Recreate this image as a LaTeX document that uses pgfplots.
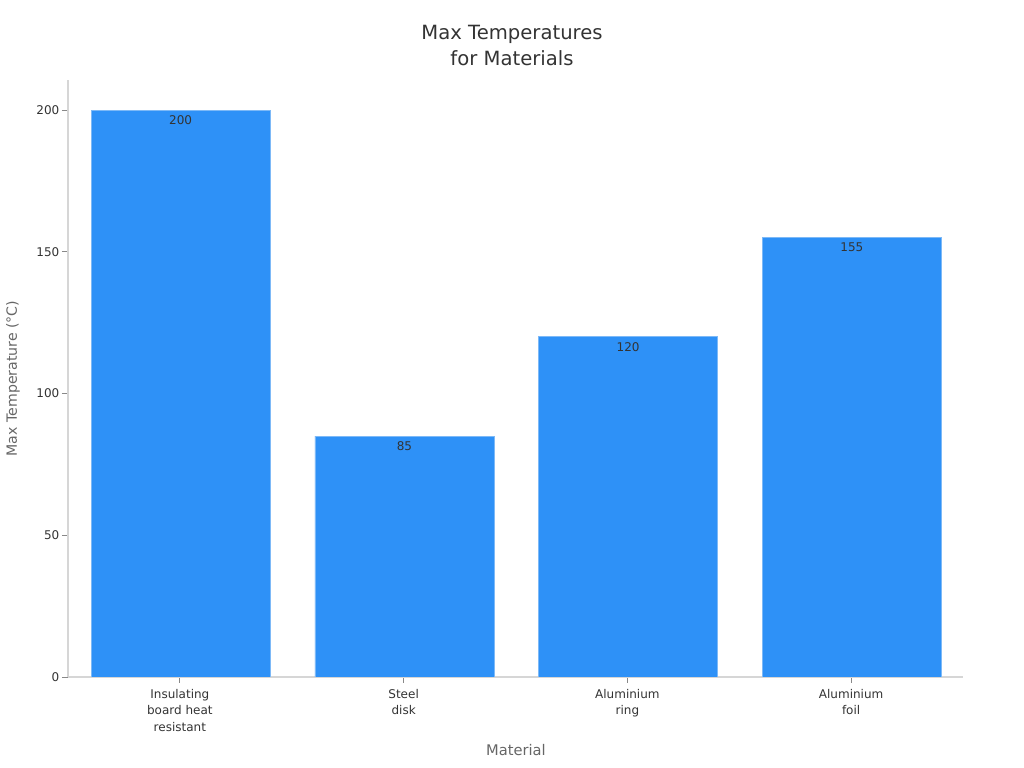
\documentclass[border=0pt]{standalone}
\usepackage{fontspec}
\setmainfont{DejaVu Sans}
\usepackage{pgfplots}
\pgfplotsset{compat=1.18}
\usetikzlibrary{calc}
\definecolor{barblue}{HTML}{2E91F7}
\definecolor{baredge}{HTML}{7DB9F7}
\definecolor{axgray}{HTML}{D6D6D6}
\definecolor{tickgray}{HTML}{888888}
\definecolor{txtdark}{HTML}{333333}
\definecolor{lblgray}{HTML}{666666}
\begin{document}
\begin{tikzpicture}
\begin{axis}[
  scale only axis,
  width=671.25pt, height=447.75pt,
  xmin=-0.5, xmax=3.5, ymin=0, ymax=210.6,
  ybar, bar width=0.8,
  axis lines*=left,
  axis line style={axgray, line width=0.8pt},
  tick align=outside,
  major tick length=4.5pt,
  tick style={tickgray, line width=0.6pt},
  ytick={0,50,100,150,200},
  xtick={0,1,2,3},
  xticklabels={{Insulating\\board heat\\resistant},{Steel\\disk},{Aluminium\\ring},{Aluminium\\foil}},
  xticklabel style={align=center, font=\fontsize{9}{12.4}\selectfont, text=txtdark, yshift=-1pt},
  yticklabel style={font=\fontsize{9}{11}\selectfont, text=txtdark, xshift=1.5pt},
  /pgf/number format/assume math mode=true,
  nodes near coords,
  every node near coord/.append style={anchor=north, yshift=-0.5pt, font=\fontsize{9}{11}\selectfont, text=txtdark},
]
\addplot[fill=barblue, draw=baredge, line width=0.6pt, xshift=0.6pt] coordinates {(0,200) (1,85) (2,120) (3,155)};
\coordinate (SW) at (rel axis cs:0,0);
\coordinate (NE) at (rel axis cs:1,1);
\end{axis}
\pgfresetboundingbox
\path[use as bounding box] ($(SW)+(-51pt,-68.25pt)$) rectangle ($(NE)+(45.75pt,60pt)$);
\node[align=center, font=\fontsize{14.7}{19.5}\selectfont, text=txtdark] at ($(SW|-NE)+(333pt,25.5pt)$) {Max Temperatures\\for Materials};
\node[font=\fontsize{11}{13}\selectfont, text=lblgray] at ($(SW)+(336pt,-54.75pt)$) {Material};
\node[rotate=90, font=\fontsize{10.6}{13}\selectfont, text=lblgray] at ($(SW)!0.5!(SW|-NE)+(-41.25pt,0)$) {Max Temperature (°C)};
\end{tikzpicture}
\end{document}
